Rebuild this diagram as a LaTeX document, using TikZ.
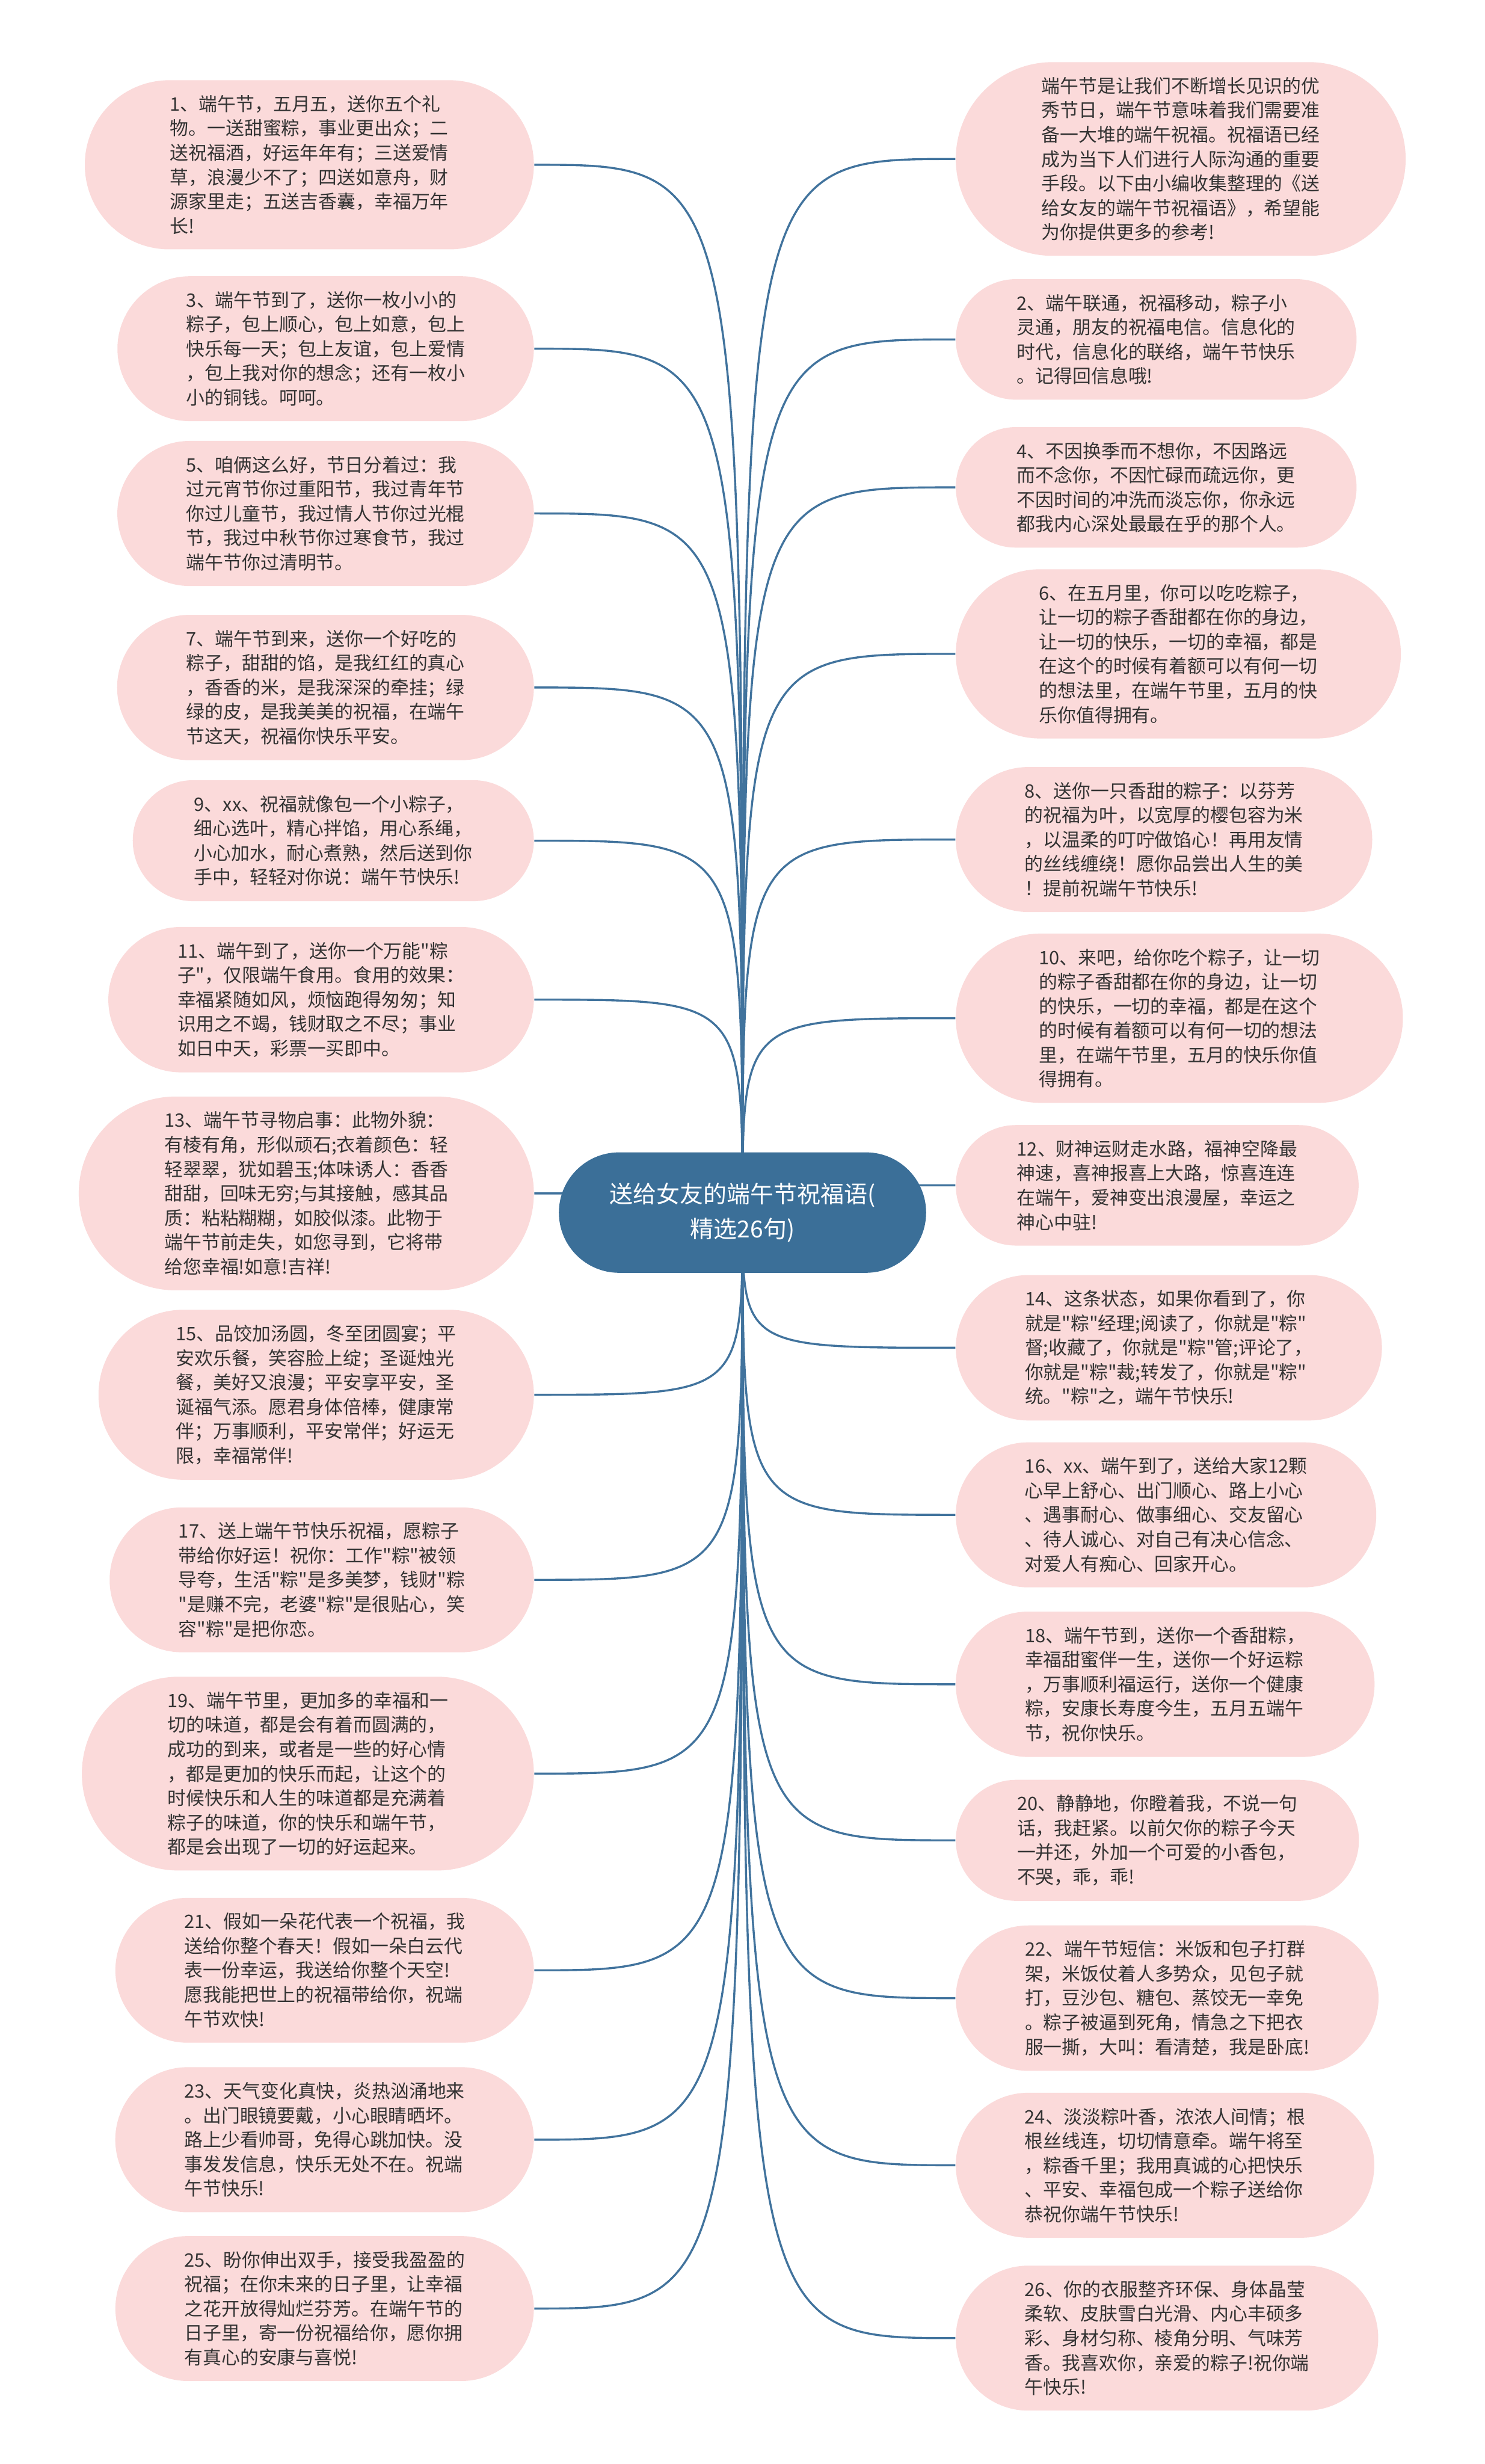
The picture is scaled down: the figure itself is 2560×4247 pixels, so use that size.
\documentclass[tikz,border=0pt]{standalone}
\usepackage{fontspec}
\newfontfamily\cjkfont{Noto Sans CJK SC}
\usetikzlibrary{shapes.misc}

\definecolor{pillpink}{HTML}{FBDADA}
\definecolor{wishtext}{HTML}{333333}
\definecolor{hubblue}{HTML}{3B6F98}
\definecolor{linkblue}{HTML}{41739D}

\tikzset{
	wish/.style={rounded rectangle, fill=pillpink, text=wishtext, align=left,
		inner xsep=20pt, inner ysep=7.4pt, font=\cjkfont\fontsize{9.1pt}{11.95pt}\selectfont},
	lwish/.style={wish, anchor=east},
	rwish/.style={wish, anchor=west},
	link/.style={draw=linkblue, line width=1pt},
	topic/.style={rounded rectangle, fill=hubblue, text=white, align=center,
		inner xsep=21pt, inner ysep=15pt, font=\cjkfont\fontsize{11.5pt}{17pt}\selectfont}
}

\begin{document}
\begin{tikzpicture}[x=0.01cm, y=-0.01cm]
	\fill[white] (0,0) rectangle (2560,4247);
	\useasboundingbox (0,0) rectangle (2560,4247);
	
	% left column
	\node[lwish, inner xsep=24pt] (w1) at (921,284) {1、端午节，五月五，送你五个礼\\物。一送甜蜜粽，事业更出众；二\\送祝福酒，好运年年有；三送爱情\\草，浪漫少不了；四送如意舟，财\\源家里走；五送吉香囊，幸福万年\\长!};
	\node[lwish] (w3) at (921,601) {3、端午节到了，送你一枚小小的\\粽子，包上顺心，包上如意，包上\\快乐每一天；包上友谊，包上爱情\\，包上我对你的想念；还有一枚小\\小的铜钱。呵呵。};
	\node[lwish] (w5) at (921,885) {5、咱俩这么好，节日分着过：我\\过元宵节你过重阳节，我过青年节\\你过儿童节，我过情人节你过光棍\\节，我过中秋节你过寒食节，我过\\端午节你过清明节。};
	\node[lwish] (w7) at (921,1185) {7、端午节到来，送你一个好吃的\\粽子，甜甜的馅，是我红红的真心\\，香香的米，是我深深的牵挂；绿\\绿的皮，是我美美的祝福，在端午\\节这天，祝福你快乐平安。};
	\node[lwish] (w9) at (921,1449) {9、xx、祝福就像包一个小粽子，\\细心选叶，精心拌馅，用心系绳，\\小心加水，耐心煮熟，然后送到你\\手中，轻轻对你说：端午节快乐!};
	\node[lwish] (w11) at (921,1723) {11、端午到了，送你一个万能"粽\\子"，仅限端午食用。食用的效果：\\幸福紧随如风，烦恼跑得匆匆；知\\识用之不竭，钱财取之不尽；事业\\如日中天，彩票一买即中。};
	\node[lwish] (w13) at (921,2057) {13、端午节寻物启事：此物外貌：\\有棱有角，形似顽石;衣着颜色：轻\\轻翠翠，犹如碧玉;体味诱人：香香\\甜甜，回味无穷;与其接触，感其品\\质：粘粘糊糊，如胶似漆。此物于\\端午节前走失，如您寻到，它将带\\给您幸福!如意!吉祥!};
	\node[lwish] (w15) at (921,2404) {15、品饺加汤圆，冬至团圆宴；平\\安欢乐餐，笑容脸上绽；圣诞烛光\\餐，美好又浪漫；平安享平安，圣\\诞福气添。愿君身体倍棒，健康常\\伴；万事顺利，平安常伴；好运无\\限，幸福常伴!};
	\node[lwish] (w17) at (921,2723) {17、送上端午节快乐祝福，愿粽子\\带给你好运！祝你：工作"粽"被领\\导夸，生活"粽"是多美梦，钱财"粽\\"是赚不完，老婆"粽"是很贴心，笑\\容"粽"是把你恋。};
	\node[lwish] (w19) at (921,3057) {19、端午节里，更加多的幸福和一\\切的味道，都是会有着而圆满的，\\成功的到来，或者是一些的好心情\\，都是更加的快乐而起，让这个的\\时候快乐和人生的味道都是充满着\\粽子的味道，你的快乐和端午节，\\都是会出现了一切的好运起来。};
	\node[lwish] (w21) at (921,3396) {21、假如一朵花代表一个祝福，我\\送给你整个春天！假如一朵白云代\\表一份幸运，我送给你整个天空!\\愿我能把世上的祝福带给你，祝端\\午节欢快!};
	\node[lwish] (w23) at (921,3688) {23、天气变化真快，炎热汹涌地来\\。出门眼镜要戴，小心眼睛晒坏。\\路上少看帅哥，免得心跳加快。没\\事发发信息，快乐无处不在。祝端\\午节快乐!};
	\node[lwish] (w25) at (921,3979) {25、盼你伸出双手，接受我盈盈的\\祝福；在你未来的日子里，让幸福\\之花开放得灿烂芬芳。在端午节的\\日子里，寄一份祝福给你，愿你拥\\有真心的安康与喜悦!};
	
	% right column
	\node[rwish] (w0) at (1647,274) {端午节是让我们不断增长见识的优\\秀节日，端午节意味着我们需要准\\备一大堆的端午祝福。祝福语已经\\成为当下人们进行人际沟通的重要\\手段。以下由小编收集整理的《送\\给女友的端午节祝福语》，希望能\\为你提供更多的参考!};
	\node[rwish] (w2) at (1647,585) {2、端午联通，祝福移动，粽子小\\灵通，朋友的祝福电信。信息化的\\时代，信息化的联络，端午节快乐\\。记得回信息哦!};
	\node[rwish] (w4) at (1647,840) {4、不因换季而不想你，不因路远\\而不念你，不因忙碌而疏远你，更\\不因时间的冲洗而淡忘你，你永远\\都我内心深处最最在乎的那个人。};
	\node[rwish, inner xsep=23pt] (w6) at (1647,1127) {6、在五月里，你可以吃吃粽子，\\让一切的粽子香甜都在你的身边，\\让一切的快乐，一切的幸福，都是\\在这个的时候有着额可以有何一切\\的想法里，在端午节里，五月的快\\乐你值得拥有。};
	\node[rwish] (w8) at (1647,1447) {8、送你一只香甜的粽子：以芬芳\\的祝福为叶，以宽厚的樱包容为米\\，以温柔的叮咛做馅心！再用友情\\的丝线缠绕！愿你品尝出人生的美\\！提前祝端午节快乐!};
	\node[rwish, inner xsep=23pt] (w10) at (1647,1755) {10、来吧，给你吃个粽子，让一切\\的粽子香甜都在你的身边，让一切\\的快乐，一切的幸福，都是在这个\\的时候有着额可以有何一切的想法\\里，在端午节里，五月的快乐你值\\得拥有。};
	\node[rwish] (w12) at (1647,2043) {12、财神运财走水路，福神空降最\\神速，喜神报喜上大路，惊喜连连\\在端午，爱神变出浪漫屋，幸运之\\神心中驻!};
	\node[rwish] (w14) at (1647,2323) {14、这条状态，如果你看到了，你\\就是"粽"经理;阅读了，你就是"粽"\\督;收藏了，你就是"粽"管;评论了，\\你就是"粽"裁;转发了，你就是"粽"\\统。"粽"之，端午节快乐!};
	\node[rwish] (w16) at (1647,2611) {16、xx、端午到了，送给大家12颗\\心早上舒心、出门顺心、路上小心\\、遇事耐心、做事细心、交友留心\\、待人诚心、对自己有决心信念、\\对爱人有痴心、回家开心。};
	\node[rwish] (w18) at (1647,2903) {18、端午节到，送你一个香甜粽，\\幸福甜蜜伴一生，送你一个好运粽\\，万事顺利福运行，送你一个健康\\粽，安康长寿度今生，五月五端午\\节，祝你快乐。};
	\node[rwish] (w20) at (1647,3172) {20、静静地，你瞪着我，不说一句\\话，我赶紧。以前欠你的粽子今天\\一并还，外加一个可爱的小香包，\\不哭，乖，乖!};
	\node[rwish] (w22) at (1647,3444) {22、端午节短信：米饭和包子打群\\架，米饭仗着人多势众，见包子就\\打，豆沙包、糖包、蒸饺无一幸免\\。粽子被逼到死角，情急之下把衣\\服一撕，大叫：看清楚，我是卧底!};
	\node[rwish] (w24) at (1647,3732) {24、淡淡粽叶香，浓浓人间情；根\\根丝线连，切切情意牵。端午将至\\，粽香千里；我用真诚的心把快乐\\、平安、幸福包成一个粽子送给你\\恭祝你端午节快乐!};
	\node[rwish] (w26) at (1647,4030) {26、你的衣服整齐环保、身体晶莹\\柔软、皮肤雪白光滑、内心丰硕多\\彩、身材匀称、棱角分明、气味芳\\香。我喜欢你，亲爱的粽子!祝你端\\午快乐!};
	
	% connectors
	\coordinate (hub) at (1280,2090);
	\foreach \i in {1,3,...,25}
	{
		\draw[link] (hub) .. controls (hub |- w\i.east) .. (w\i.east);
	}
	\foreach \i in {0,2,...,26}
	{
		\draw[link] (hub) .. controls (hub |- w\i.west) .. (w\i.west);
	}
	
	\node[topic] (title) at (hub) {送给女友的端午节祝福语(\\精选26句)};
	
\end{tikzpicture}
\end{document}
